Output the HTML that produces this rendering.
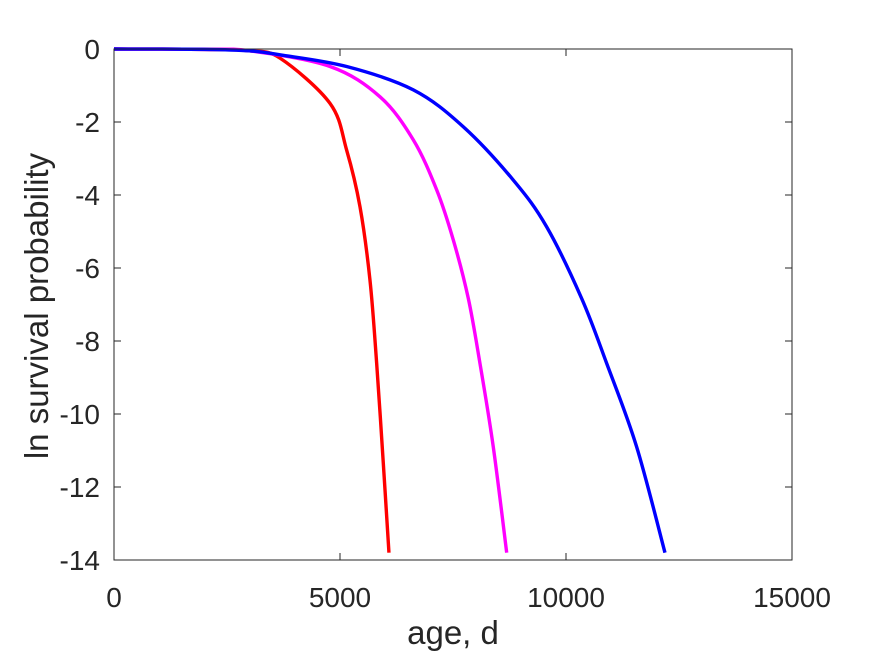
<!DOCTYPE html>
<html><head><meta charset="utf-8"><style>
body{margin:0;background:#fff;}
svg text{font-family:"Liberation Sans",Arial,sans-serif;fill:#262626;}
</style></head><body>
<svg width="875" height="656">
<g id="marks"></g>
<g id="axes"></g>
</svg>
<script>
const xTicks=[0,5000,10000,15000];
const yTicks=[0,-2,-4,-6,-8,-10,-12,-14];
const redT=[0,2000,3000,3672,4779,5147,5442,5663,5811,5958,6083];
const redV=[0,-0.01,-0.05,-0.25,-1.49,-2.77,-4.32,-6.33,-8.61,-11.35,-13.8];
const magT=[0,2000,3000,4779,5885,6622,7139,7506,7838,8096,8391,8688];
const magV=[0,-0.01,-0.05,-0.48,-1.31,-2.49,-3.86,-5.23,-6.83,-8.61,-10.9,-13.8];
const bluT=[0,2000,3000,3672,5147,6622,7727,8833,9571,10345,10899,11563,12190];
const bluV=[0,-0.01,-0.05,-0.16,-0.48,-1.12,-2.13,-3.59,-4.87,-6.83,-8.61,-10.9,-13.8];
const L=114,R=792,T=49,B=560;
const X=v=>L+(v-0)/15000*(R-L);
const Y=v=>T+(0-v)/14*(B-T);
const NS="http://www.w3.org/2000/svg";
const marks=document.getElementById('marks'),axes=document.getElementById('axes');
function mk(tag,attrs,parent){const e=document.createElementNS(NS,tag);for(const k in attrs)e.setAttribute(k,attrs[k]);parent.appendChild(e);return e;}
function curve(ts,vs){const p=ts.map((t,i)=>[X(t),Y(vs[i])]);let d=`M${p[0][0]},${p[0][1]}`;
for(let i=0;i<p.length-1;i++){const p0=p[Math.max(0,i-1)],p1=p[i],p2=p[i+1],p3=p[Math.min(p.length-1,i+2)];
d+=` C${p1[0]+(p2[0]-p0[0])/6},${p1[1]+(p2[1]-p0[1])/6} ${p2[0]-(p3[0]-p1[0])/6},${p2[1]-(p3[1]-p1[1])/6} ${p2[0]},${p2[1]}`;}return d;}
const series=[[redT,redV,'#ff0000','red-curve'],[magT,magV,'#ff00ff','magenta-curve'],[bluT,bluV,'#0000ff','blue-curve']];
series.forEach(s=>{const e=mk('path',{d:curve(s[0],s[1]),fill:'none',stroke:s[2],'stroke-width':3.4},marks);

});
const box=mk('rect',{x:L,y:T,width:R-L,height:B-T,fill:'none',stroke:'#262626','stroke-width':1},axes);


xTicks.forEach(v=>{mk('line',{x1:X(v),x2:X(v),y1:B,y2:B-7,stroke:'#262626'},axes);mk('line',{x1:X(v),x2:X(v),y1:T,y2:T+7,stroke:'#262626'},axes);
const t=mk('text',{x:X(v),y:B+47,'text-anchor':'middle','font-size':28},axes);t.textContent=v;

});
yTicks.forEach(v=>{mk('line',{x1:L,x2:L+7,y1:Y(v),y2:Y(v),stroke:'#262626'},axes);mk('line',{x1:R,x2:R-7,y1:Y(v),y2:Y(v),stroke:'#262626'},axes);
const t=mk('text',{x:L-14,y:Y(v)+10,'text-anchor':'end','font-size':28},axes);t.textContent=v;

});
const xl=mk('text',{x:453,y:644,'text-anchor':'middle','font-size':33},axes);xl.textContent='age, d';


const yl=mk('text',{x:0,y:0,'text-anchor':'middle','font-size':33,transform:'translate(48,306) rotate(-90)'},axes);yl.textContent='ln survival probability';


</script>
</body></html>
